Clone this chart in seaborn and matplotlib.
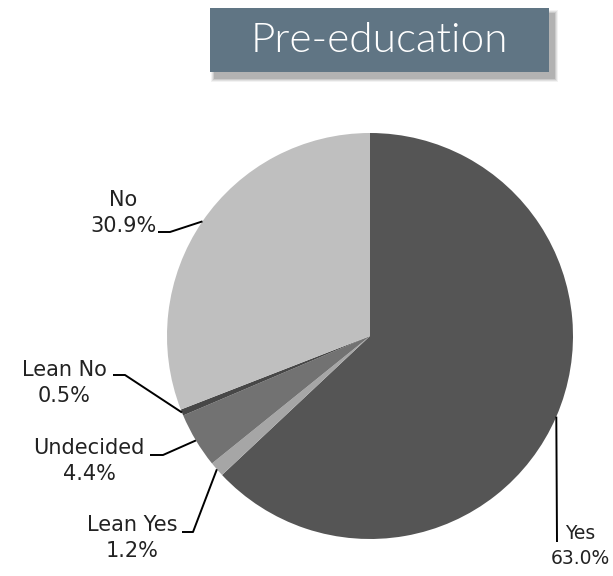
import numpy as np
import seaborn as sns
import matplotlib.pyplot as plt
from matplotlib.patches import Rectangle

# values
labels = ["Yes", "Lean Yes", "Undecided", "Lean No", "No"]
shares = [63.0, 1.2, 4.4, 0.5, 30.9]
colors = ["#555555", "#a6a6a6", "#727272", "#474747", "#bfbfbf"]
title = "Pre-education"

# label placement (pixel coords, y down): text centre, elbow, end of horizontal piece
label_pos = {
    "No":        ((123, 213), (170, 232), (158, 232)),
    "Lean No":   ((64, 383), (125, 375), (113, 375)),
    "Undecided": ((89, 461), (163, 455), (150, 455)),
    "Lean Yes":  ((132, 538), (193, 532), (182, 532)),
    "Yes":       ((580, 546), (557, 542), (557, 542)),
}

W, H = 613, 576
sns.set_theme(style="white")
plt.rcParams["font.family"] = ["DejaVu Sans"]

fig = plt.figure(figsize=(W / 100, H / 100), dpi=100)
ax = fig.add_axes([0, 0, 1, 1])

cx, cy, r = 370, H - 336, 203
wedges, _ = ax.pie(shares, colors=colors, startangle=90, counterclock=False,
                   center=(cx, cy), radius=r, frame=True,
                   wedgeprops=dict(linewidth=0))

def flip(p):
    return p[0], H - p[1]

for w, lab, val in zip(wedges, labels, shares):
    ang = np.deg2rad((w.theta1 + w.theta2) / 2)
    edge = (cx + r * np.cos(ang), cy + r * np.sin(ang))
    txt, elbow, end = label_pos[lab]
    ex, ey = flip(elbow)
    nx, ny = flip(end)
    ax.plot([edge[0], ex, nx], [edge[1], ey, ny], color="black", lw=1.4,
            solid_capstyle="butt", zorder=3)
    tx, ty = flip(txt)
    size = 13.5 if lab == "Yes" else 15
    ax.text(tx, ty, f"{lab}\n{val:.1f}%", ha="center", va="center",
            fontsize=size, color="#222222", linespacing=1.4)

# title box with a soft shadow
bx, by, bw, bh = 210, H - 72, 339, 64
for i, a in enumerate([0.05, 0.07, 0.09, 0.12]):
    g = 4 - i
    ax.add_patch(Rectangle((bx + 5 - g, by - 6 - g), bw + 2 * g, bh + 2 * g,
                           color="#000000", alpha=a, lw=0, zorder=4))
ax.add_patch(Rectangle((bx, by), bw, bh, color="#607584", lw=0, zorder=5))
ax.text(bx + bw / 2, by + bh / 2 - 1, title, ha="center", va="center",
        fontsize=30.5, color="white", family="Lato", fontweight=300, zorder=6)

ax.set_xlim(0, W)
ax.set_ylim(0, H)
ax.set_aspect("equal")
ax.axis("off")

fig.savefig("out.png", dpi=100)
